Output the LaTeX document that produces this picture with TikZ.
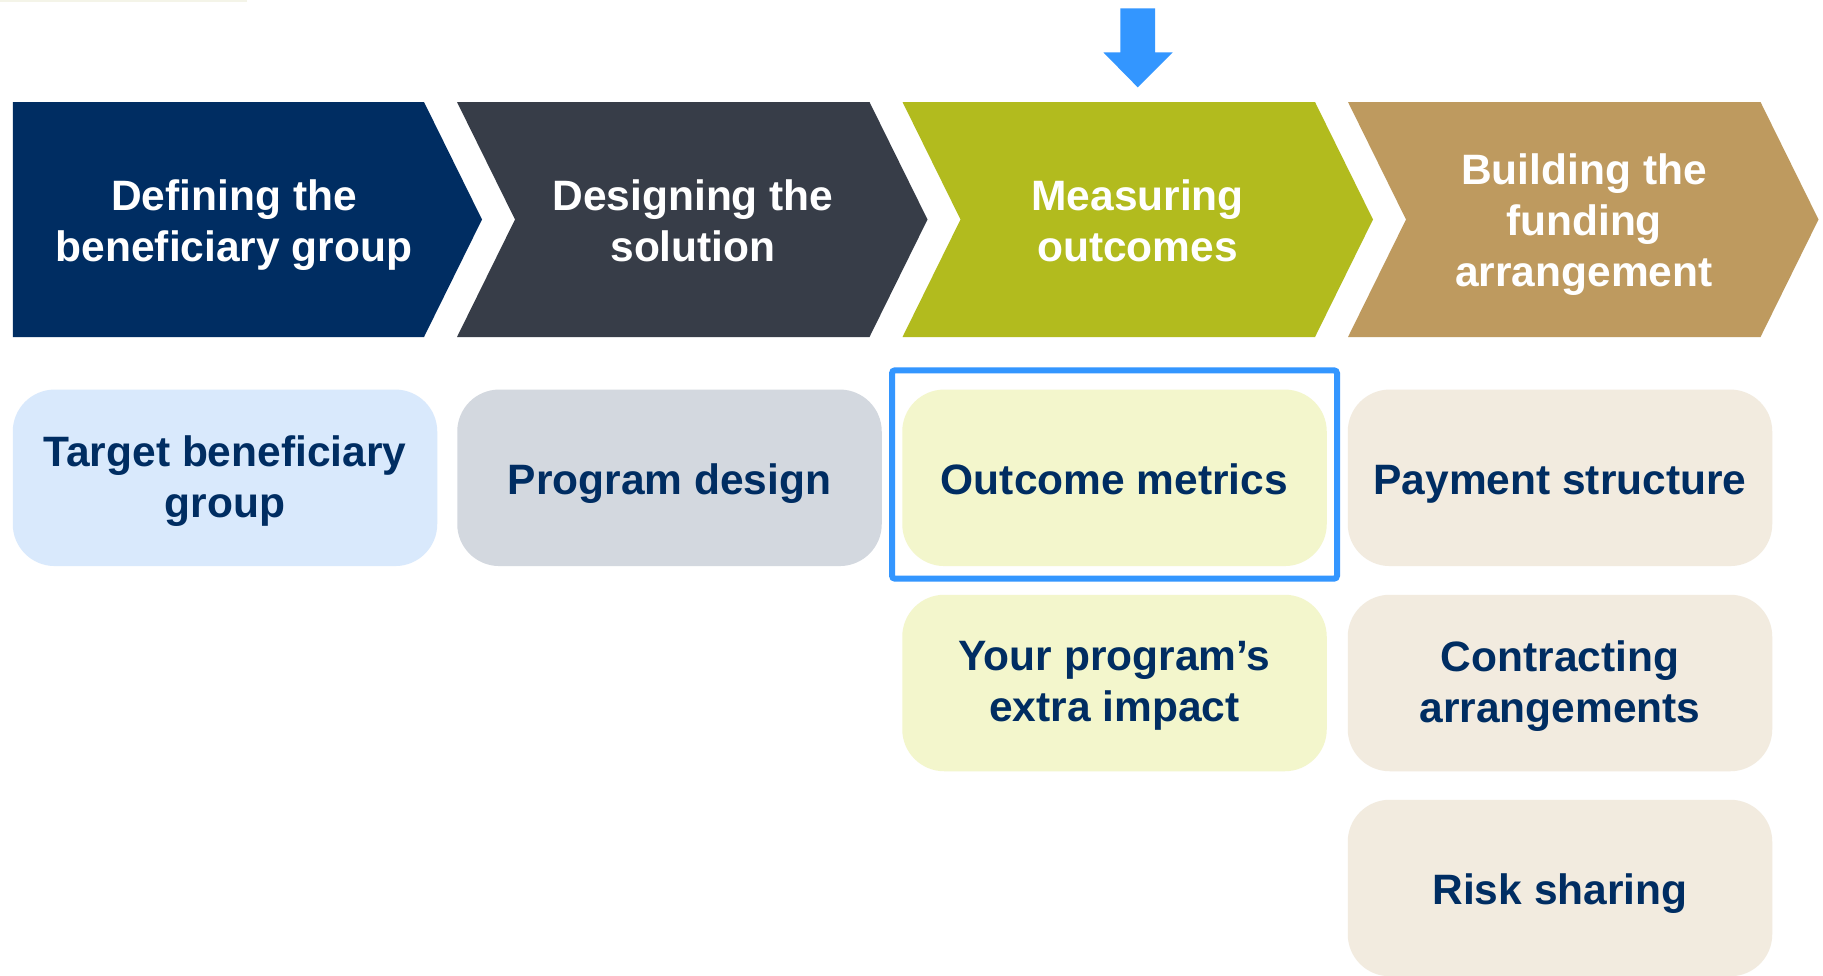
\documentclass[tikz,border=0pt]{standalone}
\usepackage{fontspec}
\setmainfont{Liberation Sans}
\definecolor{navy}{RGB}{0,45,98}
\definecolor{slate}{RGB}{55,61,72}
\definecolor{olive}{RGB}{178,187,30}
\definecolor{tan}{RGB}{190,154,95}
\definecolor{boxblue}{RGB}{217,233,252}
\definecolor{boxgray}{RGB}{211,216,223}
\definecolor{boxgreen}{RGB}{243,246,204}
\definecolor{boxtan}{RGB}{242,235,223}
\definecolor{hlblue}{RGB}{51,150,255}
\definecolor{faint}{RGB}{244,244,232}
\tikzset{
  struts/.style={execute at begin node=\strut, execute at end node=\strut},
  chevtext/.style={struts, text=white, font=\bfseries\fontsize{42.5}{51}\selectfont, align=center, inner sep=0pt},
  itembox/.style={rounded corners=42pt, minimum width=424.5pt, minimum height=176.5pt, inner sep=0pt},
  itemtext/.style={struts, text=navy, font=\bfseries\fontsize{42.5}{51}\selectfont, align=center, inner sep=0pt},
  hlbox/.style={draw=hlblue, line width=6pt, rounded corners=3pt, minimum width=445pt, minimum height=208.4pt, inner sep=0pt}
}
\begin{document}
\begin{tikzpicture}[x=1pt,y=-1pt]
\useasboundingbox (0,0) rectangle (1823,975);
\fill[white] (0,0) rectangle (1823,975);
\fill[faint] (0,0) rectangle (247,1.5);
% down arrow
\fill[hlblue] (1120.3,8.3) -- (1155,8.3) -- (1155,52.3) -- (1172.7,52.3) -- (1137.7,87.3) -- (1103.3,52.3) -- (1120.3,52.3) -- cycle;
% chevrons
\fill[navy] (12.8,102) -- (424,102) -- (482,219.5) -- (424,337) -- (12.8,337) -- cycle;
\fill[slate] (457,102) -- (869.5,102) -- (927.5,219.5) -- (869.5,337) -- (457,337) -- (515,219.5) -- cycle;
\fill[olive] (902.5,102) -- (1315,102) -- (1373,219.5) -- (1315,337) -- (902.5,337) -- (960.5,219.5) -- cycle;
\fill[tan] (1348,102) -- (1760.5,102) -- (1818.5,219.5) -- (1760.5,337) -- (1348,337) -- (1406,219.5) -- cycle;
\node[chevtext] (c1) at (234,228) {Defining the\\beneficiary group};
\node[chevtext] (c2) at (693,228) {Designing the\\solution};
\node[chevtext] (c3) at (1137.6,228) {Measuring\\outcomes};
\node[chevtext] (c4) at (1584,228) {Building the\\funding\\arrangement};
% boxes
\node[itembox, fill=boxblue] (b1) at (225,477.8) {};
\node[itembox, fill=boxgray] (b2) at (669.5,477.8) {};
\node[itembox, fill=boxgreen] (b3) at (1114.5,477.8) {};
\node[itembox, fill=boxtan] (b4) at (1560,477.8) {};
\node[itembox, fill=boxgreen] (b5) at (1114.5,683) {};
\node[itembox, fill=boxtan] (b6) at (1560,683) {};
\node[itembox, fill=boxtan] (b7) at (1560,888) {};
\node[itemtext] (t1) at ([yshift=-6.5pt]b1.center) {Target beneficiary\\group};
\node[itemtext] (t2) at ([yshift=-6.5pt]b2.center) {Program design};
\node[itemtext] (t3) at ([yshift=-6.5pt]b3.center) {Outcome metrics};
\node[itemtext] (t4) at ([yshift=-6.5pt]b4.center) {Payment structure};
\node[itemtext] (t5) at ([yshift=-6.5pt]b5.center) {Your program’s\\extra impact};
\node[itemtext] (t6) at ([yshift=-6.5pt]b6.center) {Contracting\\arrangements};
\node[itemtext] (t7) at ([yshift=-6.5pt]b7.center) {Risk sharing};
% highlight
\node[hlbox] (hl) at (1114.5,474.5) {};
\end{tikzpicture}
\end{document}
